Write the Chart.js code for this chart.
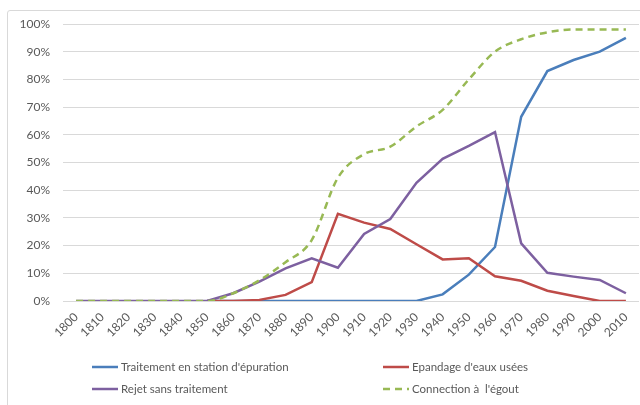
<!DOCTYPE html>
<html>
<head>
<meta charset="utf-8">
<script src="https://cdn.jsdelivr.net/npm/chart.js@4.4.0/dist/chart.umd.min.js"></script>
<style>
  html, body { margin: 0; padding: 0; background: #fff; overflow: hidden; }
  #wrap { position: relative; width: 640px; height: 405px; }
  #frame { position: absolute; left: 7px; top: 10px; width: 660px; height: 420px; border: 1px solid #d9d9d9; border-radius: 3px; }
  canvas { position: absolute; left: 0; top: 0; }
</style>
</head>
<body>
<div id="wrap">
  <div id="frame"></div>
  <canvas id="lineChart" width="640" height="405"></canvas>
</div>
<script>
// decades
var years = ['1800', '1810', '1820', '1830', '1840', '1850', '1860', '1870', '1880', '1890', '1900',
    '1910', '1920', '1930', '1940', '1950', '1960', '1970', '1980', '1990', '2000', '2010'];

// % of population
var traitement = [null, null, null, null, null, 0, 0, 0, 0, 0, 0, 0, 0, 0, 2.4, 9.5, 19.5, 66.5, 83, 87, 90, 95];
var epandage = [null, null, null, null, null, 0, 0, 0.4, 2.2, 6.8, 31.5, 28.3, 26, 20.5, 15, 15.4, 8.9, 7.3, 3.7, 1.8, 0, 0];
var rejet = [0, 0, 0, 0, 0, 0, 2.8, 7, 11.8, 15.4, 12, 24.2, 29.6, 42.7, 51.3, 56, 61, 20.8, 10.2, 8.8, 7.6, 2.8];
var connection = [0, 0, 0, 0, 0, 0, 2.8, 7.5, 14, 22, 44.5, 53, 55.7, 63, 69, 80, 90, 94.5, 97, 98, 98, 98];

var seriesNames = ["Traitement en station d'épuration", "Epandage d'eaux usées", "Rejet sans traitement", "Connection à  l'égout"];

Chart.defaults.font.family = "Lato, 'Open Sans', sans-serif";
Chart.defaults.color = '#595959';

// legend in two columns like excel
var legendPlugin = {
    id: 'twoColLegend',
    afterDraw: function (chart) {
        var ctx = chart.ctx;
        var cols = [92, 383];
        var rows = [367, 389];
        ctx.save();
        ctx.font = '11.5px ' + Chart.defaults.font.family;
        ctx.textBaseline = 'middle';
        ctx.fillStyle = '#595959';
        for (var n = 0; n < chart.data.datasets.length; n++) {
            var ds = chart.data.datasets[n];
            var x = cols[n % 2], y = rows[Math.floor(n / 2)];
            ctx.strokeStyle = ds.borderColor;
            ctx.lineWidth = ds.borderWidth;
            ctx.setLineDash(ds.borderDash ? ds.borderDash : []);
            ctx.beginPath();
            ctx.moveTo(x, y);
            ctx.lineTo(x + 26, y);
            ctx.stroke();
            ctx.setLineDash([]);
            ctx.fillText(ds.label, x + 29, y);
        }
        ctx.restore();
    }
};

var lineCanvas = document.getElementById('lineChart').getContext('2d');

new Chart(lineCanvas, {
    type: 'line',
    data: {
        labels: years,
        datasets: [
            {
                label: seriesNames[0],
                data: traitement,
                borderColor: '#4a7ebb',
                borderWidth: 2.5,
                pointRadius: 0,
                order: 4
            },
            {
                label: seriesNames[1],
                data: epandage,
                borderColor: '#be4b48',
                borderWidth: 2.5,
                pointRadius: 0,
                order: 3
            },
            {
                label: seriesNames[2],
                data: rejet,
                borderColor: '#7d60a0',
                borderWidth: 2.5,
                pointRadius: 0,
                order: 2
            },
            {
                label: seriesNames[3],
                data: connection,
                borderColor: '#98b954',
                borderWidth: 2.5,
                borderDash: [7, 5],
                pointRadius: 0,
                cubicInterpolationMode: 'monotone',
                order: 1
            }
        ]
    },
    options: {
        responsive: false,
        animation: false,
        events: [],
        layout: { padding: { left: 0, right: 1, top: 24, bottom: 60 } },
        plugins: {
            legend: { display: false },
            tooltip: { enabled: false }
        },
        scales: {
            x: {
                offset: true,
                grid: { display: false, drawTicks: false },
                border: { display: false },
                ticks: {
                    autoSkip: false,
                    maxRotation: 45,
                    minRotation: 45,
                    padding: 9,
                    font: { size: 12 }
                },
                afterFit: function (scale) {
                    scale.height = 44;
                    scale.paddingLeft = 0;
                    scale.paddingRight = 0;
                }
            },
            y: {
                min: 0,
                max: 100,
                grid: { color: '#d9d9d9', lineWidth: 1, drawTicks: false },
                border: { display: false },
                ticks: {
                    stepSize: 10,
                    padding: 13,
                    font: { size: 12 },
                    callback: function (v) { return v + '%'; }
                },
                afterFit: function (scale) { scale.width = 63; }
            }
        }
    },
    plugins: [legendPlugin]
});
</script>
</body>
</html>
